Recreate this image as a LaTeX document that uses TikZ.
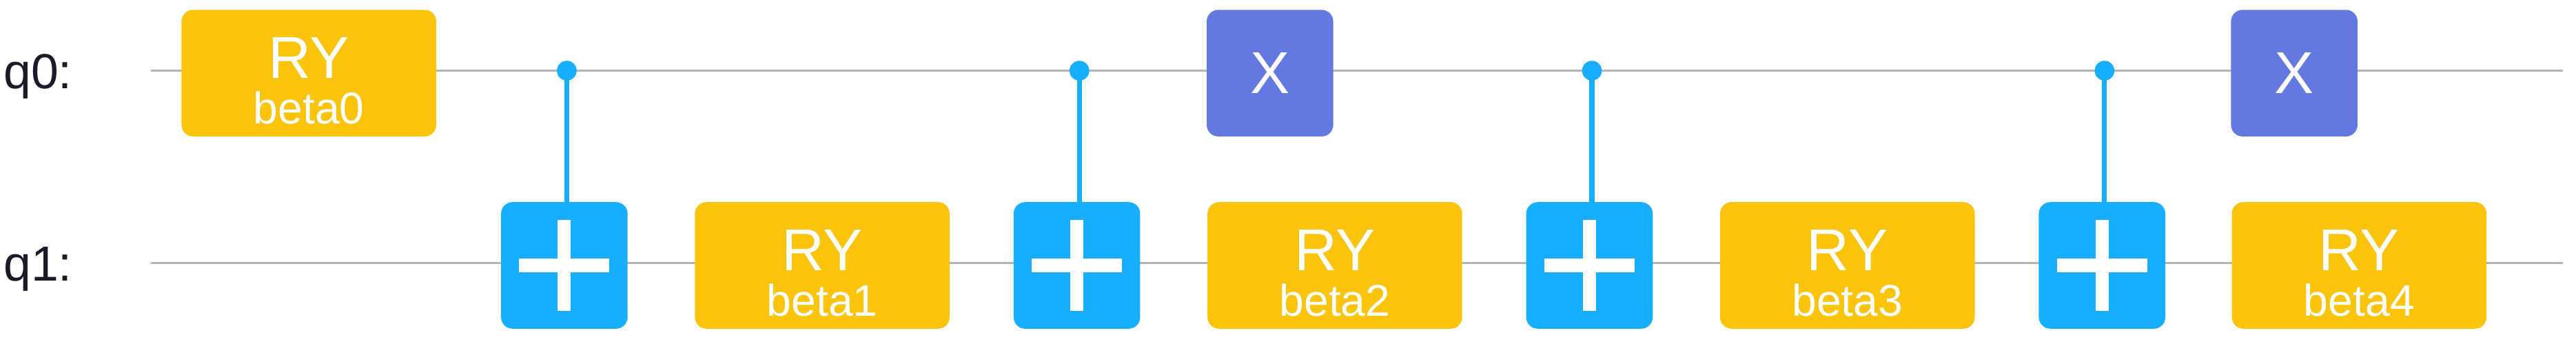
\documentclass[tikz,border=0pt]{standalone}
\usepackage{fontspec}
\setmainfont{Liberation Sans}
\definecolor{ryc}{HTML}{FAC30C}
\definecolor{cxc}{HTML}{18AEFF}
\definecolor{xc}{HTML}{6179E0}
\definecolor{wirec}{HTML}{B3B5BA}
\definecolor{labc}{HTML}{1A1A2A}
\begin{document}
\begin{tikzpicture}[x=1pt,y=-1pt,
  ry/.style={fill=ryc,rounded corners=7pt,minimum width=155pt,minimum height=77pt,inner sep=0pt},
  xg/.style={fill=xc,rounded corners=7pt,minimum width=77pt,minimum height=77pt,inner sep=0pt},
  cx/.style={fill=cxc,rounded corners=7pt,minimum width=77pt,minimum height=77pt,inner sep=0pt},
  ctrl/.style={circle,fill=cxc,minimum size=12pt,inner sep=0pt},
  big/.style={white,font=\fontsize{36}{36}\selectfont,anchor=base,inner sep=0pt},
  small/.style={white,font=\fontsize{27}{27}\selectfont,anchor=base,inner sep=0pt},
  wire/.style={wirec,line width=1.6pt},
  conn/.style={cxc,line width=3pt},
  plus/.style={white,line width=8pt}]
\useasboundingbox (0,0) rectangle (1568,209.3);
% wires
\coordinate (w0s) at (92,43); \coordinate (w0e) at (1560,43);
\coordinate (w1s) at (92,160); \coordinate (w1e) at (1560,160);
\draw[wire] (w0s) -- (w0e);
\draw[wire] (w1s) -- (w1e);
\node[labc,font=\fontsize{30}{30}\selectfont,anchor=base west,inner sep=0pt] (l0) at (2,54) {q0:};
\node[labc,font=\fontsize{30}{30}\selectfont,anchor=base west,inner sep=0pt] (l1) at (2,171) {q1:};
% RY beta0
\node[ry] (r0) at (188,44.5) {};
\node[big] (r0a) at (188,47.5) {RY};
\node[small] (r0b) at (188,75.5) {beta0};
% RY on q1
\foreach \i/\xx in {1/500.5,2/812.5,3/1124.5,4/1436} {
  \node[ry] (r\i) at (\xx,161.5) {};
  \node[big] at (\xx,164.5) {RY};
  \node[small] at (\xx,192.5) {beta\i};
}
% X gates
\node[xg] (x1) at (773,44.5) {};
\node[big] at (773,57) {X};
\node[xg] (x2) at (1396.5,44.5) {};
\node[big] at (1396.5,57) {X};
% CNOTs
\foreach \i/\xx in {1/343.5,2/655.5,3/967.5,4/1279.5} {
  \node[cx] (t\i) at (\xx,161.5) {};
  \node[ctrl] (c\i) at (\xx+1.5,43) {};
  \draw[conn] (c\i.center) -- (t\i.north -| c\i.center);
  \draw[plus] ([xshift=-27.5pt]t\i.center) -- ([xshift=27.5pt]t\i.center);
  \draw[plus] ([yshift=-27.5pt]t\i.center) -- ([yshift=27.5pt]t\i.center);
}
\end{tikzpicture}
\end{document}
